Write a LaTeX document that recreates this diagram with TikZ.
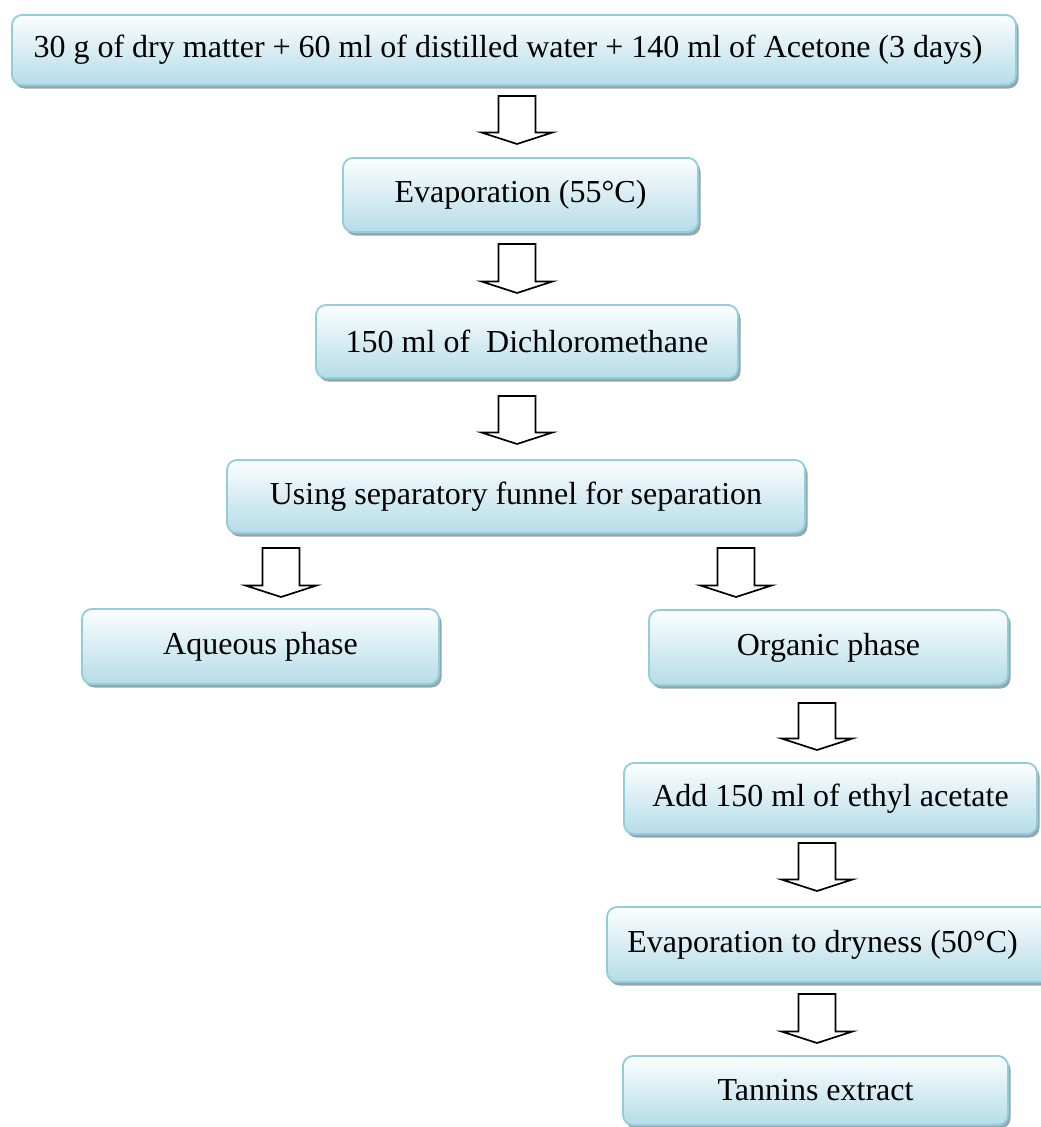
\documentclass[tikz,border=0pt]{standalone}
\usepackage{fontspec}
\setmainfont{Liberation Serif}
\usetikzlibrary{shadows}
\definecolor{boxedge}{HTML}{92CDDC}
\definecolor{boxtop}{HTML}{FCFEFE}
\definecolor{boxbot}{HTML}{B5DCE7}
\definecolor{shgray}{HTML}{90A8B0}
\tikzset{
  stepbox/.style={draw=boxedge, line width=1.8pt, rounded corners=10pt,
    top color=boxtop, bottom color=boxbot,
    drop shadow={shadow xshift=2.5pt, shadow yshift=-3.5pt, fill=shgray, opacity=1},
    inner sep=0pt, align=center, font=\fontsize{32pt}{37pt}\selectfont},
  blockarrow/.style={draw=black, fill=white, line width=1.7pt, line join=miter}
}
\newcommand\barrow[3]{% x, top, tip
  \draw[blockarrow] (#1-18.5,#2) -- (#1+18.5,#2) -- (#1+18.5,#3-11.5) -- (#1+35.5,#3-11.5)
    -- (#1,#3) -- (#1-35.5,#3-11.5) -- (#1-18.5,#3-11.5) -- cycle;}
\begin{document}
\begin{tikzpicture}[x=1pt,y=-1pt]
\clip (0,0) rectangle (1041,1127);
\fill[white] (0,0) rectangle (1041,1127);
\node[stepbox, minimum width=1004pt, minimum height=70pt] (b1) at (514,50)
  {\hspace*{-12pt}30 g of dry matter + 60 ml of distilled water + 140 ml of Acetone (3 days)};
\node[stepbox, minimum width=355pt, minimum height=74pt] (b2) at (520.5,195) {Evaporation (55°C)};
\node[stepbox, minimum width=422pt, minimum height=73pt] (b3) at (527,341.5) {150 ml of \ Dichloromethane};
\node[stepbox, minimum width=578pt, minimum height=73pt] (b4) at (516,496.5) {Using separatory funnel for separation};
\node[stepbox, minimum width=357pt, minimum height=75pt] (aq) at (260.5,646.5) {Aqueous phase};
\node[stepbox, minimum width=359pt, minimum height=75pt] (org) at (828.5,647.5) {Organic phase};
\node[stepbox, minimum width=413pt, minimum height=71pt] (add) at (830.5,798.5) {Add 150 ml of ethyl acetate};
\node[stepbox, minimum width=456pt, minimum height=75pt] (evap) at (835,944.5) {\hspace*{-25pt}Evaporation to dryness (50°C)};
\node[stepbox, minimum width=385pt, minimum height=69pt] (tan) at (815.5,1090.5) {Tannins extract};
\barrow{517}{96}{144}
\barrow{517}{244}{293}
\barrow{517}{396}{444}
\barrow{281}{548}{597}
\barrow{736}{548}{597}
\barrow{817}{703}{750}
\barrow{817}{843}{891}
\barrow{817}{994}{1043}
\end{tikzpicture}
\end{document}
